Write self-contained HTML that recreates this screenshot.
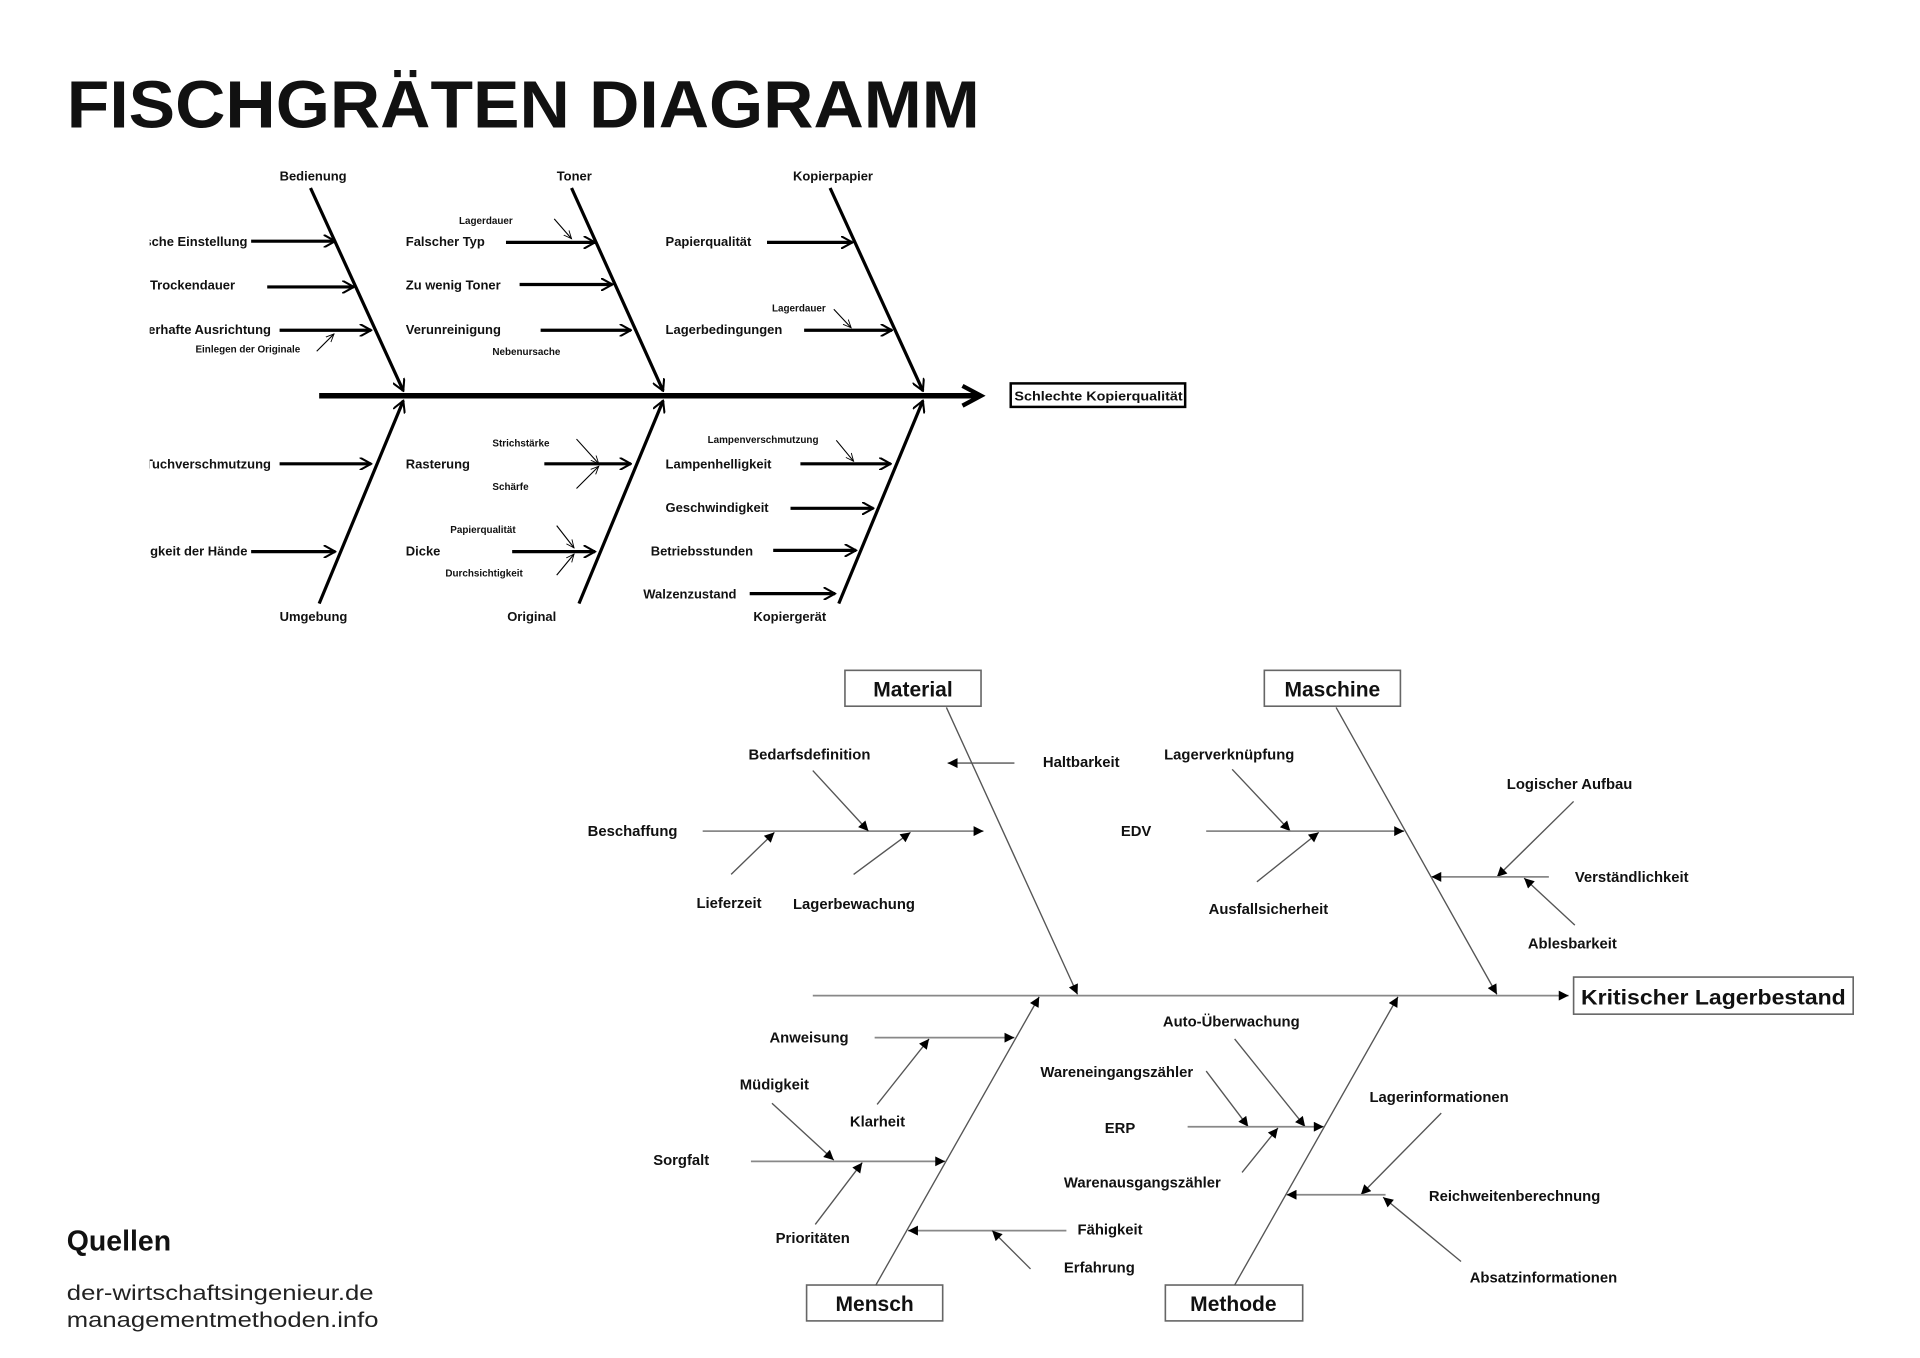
<!DOCTYPE html>
<html><head><meta charset="utf-8"><style>
html,body{margin:0;padding:0;background:#fff}
svg{display:block}
.t{font-family:"Liberation Sans",sans-serif;font-weight:bold;font-size:10.5px;fill:#111}
.s{font-family:"Liberation Sans",sans-serif;font-size:8px;fill:#111;font-weight:bold}
.b{font-family:"Liberation Sans",sans-serif;font-weight:bold;font-size:12px;fill:#111}
.bx{font-family:"Liberation Sans",sans-serif;font-weight:bold;font-size:17px;fill:#111}
.k{stroke:#000;stroke-width:2.6;fill:none}
.th{stroke:#000;stroke-width:0.9;fill:none}
.g{stroke:#555;stroke-width:1.1;fill:none}
.gs{stroke:#888;stroke-width:1.4;fill:none}
</style></head><body>
<svg width="1920" height="1358" viewBox="0 0 1552 1098" preserveAspectRatio="none" xmlns="http://www.w3.org/2000/svg">
<defs>
<marker id="o" viewBox="0 0 10 10" refX="9" refY="5" markerWidth="4" markerHeight="4" orient="auto" markerUnits="strokeWidth"><path d="M0,0 L9,5 L0,10" fill="none" stroke="#000" stroke-width="1.6"/></marker>
<marker id="os" viewBox="0 0 10 10" refX="9" refY="5" markerWidth="8" markerHeight="8" orient="auto" markerUnits="strokeWidth"><path d="M0,1 L9,5 L0,9" fill="none" stroke="#000" stroke-width="1"/></marker>
<marker id="f" viewBox="0 0 10 10" refX="10" refY="5" markerWidth="9" markerHeight="8" orient="auto" markerUnits="userSpaceOnUse"><path d="M0,0 L10,5 L0,10 z" fill="#000"/></marker>
<clipPath id="cl"><rect x="121" y="0" width="1500" height="1098"/></clipPath>
</defs>

<text x="54" y="103" style="font-family:'Liberation Sans',sans-serif;font-weight:bold;font-size:54px" fill="#111" textLength="738" lengthAdjust="spacingAndGlyphs">FISCHGRÄTEN DIAGRAMM</text>

<!-- TOP DIAGRAM -->
<line x1="258" y1="320" x2="790" y2="320" stroke="#000" stroke-width="4.5"/>
<path d="M778,312 L793,320 L778,328" fill="none" stroke="#000" stroke-width="3.5"/>
<rect x="817" y="310" width="141" height="19" fill="#fff" stroke="#000" stroke-width="2"/>
<text class="t" x="820" y="324" textLength="136" lengthAdjust="spacingAndGlyphs">Schlechte Kopierqualität</text>

<line class="k" x1="251" y1="152" x2="326" y2="316" marker-end="url(#o)"/>
<line class="k" x1="462" y1="152" x2="536" y2="316" marker-end="url(#o)"/>
<line class="k" x1="671" y1="152" x2="746" y2="316" marker-end="url(#o)"/>
<line class="k" x1="258" y1="488" x2="326" y2="324" marker-end="url(#o)"/>
<line class="k" x1="468" y1="488" x2="536" y2="324" marker-end="url(#o)"/>
<line class="k" x1="678" y1="488" x2="746" y2="324" marker-end="url(#o)"/>

<text class="t" x="226" y="146">Bedienung</text>
<text class="t" x="450" y="146">Toner</text>
<text class="t" x="641" y="146">Kopierpapier</text>
<text class="t" x="226" y="502">Umgebung</text>
<text class="t" x="410" y="502">Original</text>
<text class="t" x="609" y="502">Kopiergerät</text>

<g clip-path="url(#cl)">
<text class="t" x="200" y="199" text-anchor="end">Falsche Einstellung</text>
<text class="t" x="190" y="234" text-anchor="end">Trockendauer</text>
<text class="t" x="219" y="270" text-anchor="end">Fehlerhafte Ausrichtung</text>
<text class="t" x="219" y="379" text-anchor="end">Tuchverschmutzung</text>
<text class="t" x="200" y="449" text-anchor="end">Feuchtigkeit der Hände</text>
</g>
<line class="k" x1="203" y1="195" x2="271" y2="195" marker-end="url(#o)"/>
<line class="k" x1="216" y1="232" x2="286" y2="232" marker-end="url(#o)"/>
<line class="k" x1="226" y1="267" x2="300" y2="267" marker-end="url(#o)"/>
<text class="s" x="158" y="285">Einlegen der Originale</text>
<line class="th" x1="256" y1="284" x2="270" y2="270" marker-end="url(#os)"/>
<line class="k" x1="226" y1="375" x2="300" y2="375" marker-end="url(#o)"/>
<line class="k" x1="203" y1="446" x2="271" y2="446" marker-end="url(#o)"/>

<text class="t" x="328" y="199">Falscher Typ</text>
<text class="s" x="371" y="181">Lagerdauer</text>
<line class="th" x1="448" y1="177" x2="462" y2="193" marker-end="url(#os)"/>
<line class="k" x1="409" y1="196" x2="481" y2="196" marker-end="url(#o)"/>
<text class="t" x="328" y="234">Zu wenig Toner</text>
<line class="k" x1="420" y1="230" x2="495" y2="230" marker-end="url(#o)"/>
<text class="t" x="328" y="270">Verunreinigung</text>
<line class="k" x1="437" y1="267" x2="510" y2="267" marker-end="url(#o)"/>
<text class="s" x="398" y="287">Nebenursache</text>

<text class="t" x="538" y="199">Papierqualität</text>
<line class="k" x1="620" y1="196" x2="689" y2="196" marker-end="url(#o)"/>
<text class="t" x="538" y="270">Lagerbedingungen</text>
<line class="k" x1="650" y1="267" x2="721" y2="267" marker-end="url(#o)"/>
<text class="s" x="624" y="252">Lagerdauer</text>
<line class="th" x1="674" y1="250" x2="688" y2="265" marker-end="url(#os)"/>

<text class="t" x="328" y="379">Rasterung</text>
<text class="s" x="398" y="361">Strichstärke</text>
<text class="s" x="398" y="396">Schärfe</text>
<line class="th" x1="466" y1="355" x2="484" y2="375" marker-end="url(#os)"/>
<line class="th" x1="466" y1="395" x2="484" y2="377" marker-end="url(#os)"/>
<line class="k" x1="440" y1="375" x2="510" y2="375" marker-end="url(#o)"/>
<text class="t" x="328" y="449">Dicke</text>
<text class="s" x="364" y="431">Papierqualität</text>
<text class="s" x="360" y="466">Durchsichtigkeit</text>
<line class="th" x1="450" y1="425" x2="464" y2="443" marker-end="url(#os)"/>
<line class="th" x1="450" y1="465" x2="464" y2="448" marker-end="url(#os)"/>
<line class="k" x1="414" y1="446" x2="481" y2="446" marker-end="url(#o)"/>

<text class="t" x="538" y="379">Lampenhelligkeit</text>
<text class="s" x="572" y="358">Lampenverschmutzung</text>
<line class="th" x1="676" y1="356" x2="690" y2="373" marker-end="url(#os)"/>
<line class="k" x1="647" y1="375" x2="720" y2="375" marker-end="url(#o)"/>
<text class="t" x="538" y="414">Geschwindigkeit</text>
<line class="k" x1="639" y1="411" x2="706" y2="411" marker-end="url(#o)"/>
<text class="t" x="526" y="449">Betriebsstunden</text>
<line class="k" x1="625" y1="445" x2="692" y2="445" marker-end="url(#o)"/>
<text class="t" x="520" y="484">Walzenzustand</text>
<line class="k" x1="606" y1="480" x2="675" y2="480" marker-end="url(#o)"/>

<!-- BOTTOM DIAGRAM -->
<line class="gs" x1="657" y1="805" x2="1268" y2="805" stroke-width="1.8" marker-end="url(#f)"/>
<rect x="1272" y="790" width="226" height="30" fill="#fff" stroke="#666" stroke-width="1.3"/>
<text class="bx" x="1278" y="812" textLength="214" lengthAdjust="spacingAndGlyphs">Kritischer Lagerbestand</text>

<rect x="683" y="542" width="110" height="29" fill="#fff" stroke="#666" stroke-width="1.3"/>
<text class="bx" x="738" y="563" text-anchor="middle">Material</text>
<rect x="1022" y="542" width="110" height="29" fill="#fff" stroke="#666" stroke-width="1.3"/>
<text class="bx" x="1077" y="563" text-anchor="middle">Maschine</text>
<rect x="652" y="1039" width="110" height="29" fill="#fff" stroke="#666" stroke-width="1.3"/>
<text class="bx" x="707" y="1060" text-anchor="middle">Mensch</text>
<rect x="942" y="1039" width="111" height="29" fill="#fff" stroke="#666" stroke-width="1.3"/>
<text class="bx" x="997" y="1060" text-anchor="middle">Methode</text>

<line class="g" x1="765" y1="572" x2="871" y2="804" marker-end="url(#f)"/>
<line class="g" x1="1080" y1="572" x2="1210" y2="804" marker-end="url(#f)"/>
<line class="g" x1="708" y1="1039" x2="840" y2="806" marker-end="url(#f)"/>
<line class="g" x1="998" y1="1039" x2="1130" y2="806" marker-end="url(#f)"/>

<!-- Material -->
<text class="b" x="843" y="620">Haltbarkeit</text>
<line class="g" x1="820" y1="617" x2="766" y2="617" marker-end="url(#f)"/>
<text class="b" x="475" y="676">Beschaffung</text>
<line class="gs" x1="568" y1="672" x2="795" y2="672" marker-end="url(#f)"/>
<text class="b" x="605" y="614">Bedarfsdefinition</text>
<line class="g" x1="657" y1="623" x2="702" y2="672" marker-end="url(#f)"/>
<text class="b" x="563" y="734">Lieferzeit</text>
<line class="g" x1="591" y1="707" x2="626" y2="673" marker-end="url(#f)"/>
<text class="b" x="641" y="735">Lagerbewachung</text>
<line class="g" x1="690" y1="707" x2="736" y2="673" marker-end="url(#f)"/>

<!-- Maschine -->
<text class="b" x="941" y="614">Lagerverknüpfung</text>
<line class="g" x1="996" y1="622" x2="1043" y2="672" marker-end="url(#f)"/>
<text class="b" x="906" y="676">EDV</text>
<line class="gs" x1="975" y1="672" x2="1135" y2="672" marker-end="url(#f)"/>
<text class="b" x="977" y="739">Ausfallsicherheit</text>
<line class="g" x1="1016" y1="713" x2="1066" y2="673" marker-end="url(#f)"/>
<text class="b" x="1218" y="638">Logischer Aufbau</text>
<line class="g" x1="1272" y1="648" x2="1210" y2="709" marker-end="url(#f)"/>
<text class="b" x="1273" y="713">Verständlichkeit</text>
<line class="gs" x1="1252" y1="709" x2="1157" y2="709" marker-end="url(#f)"/>
<text class="b" x="1235" y="767">Ablesbarkeit</text>
<line class="g" x1="1273" y1="748" x2="1232" y2="710" marker-end="url(#f)"/>

<!-- Mensch -->
<text class="b" x="622" y="843">Anweisung</text>
<line class="gs" x1="707" y1="839" x2="820" y2="839" marker-end="url(#f)"/>
<text class="b" x="687" y="911">Klarheit</text>
<line class="g" x1="709" y1="893" x2="751" y2="840" marker-end="url(#f)"/>
<text class="b" x="598" y="881">Müdigkeit</text>
<line class="g" x1="624" y1="892" x2="674" y2="938" marker-end="url(#f)"/>
<text class="b" x="528" y="942">Sorgfalt</text>
<line class="gs" x1="607" y1="939" x2="764" y2="939" marker-end="url(#f)"/>
<text class="b" x="627" y="1005">Prioritäten</text>
<line class="g" x1="659" y1="990" x2="697" y2="940" marker-end="url(#f)"/>
<text class="b" x="871" y="998">Fähigkeit</text>
<line class="gs" x1="862" y1="995" x2="734" y2="995" marker-end="url(#f)"/>
<text class="b" x="860" y="1029">Erfahrung</text>
<line class="g" x1="833" y1="1026" x2="802" y2="995" marker-end="url(#f)"/>

<!-- Methode -->
<text class="b" x="940" y="830">Auto-Überwachung</text>
<line class="g" x1="998" y1="840" x2="1055" y2="911" marker-end="url(#f)"/>
<text class="b" x="841" y="871">Wareneingangszähler</text>
<line class="g" x1="975" y1="866" x2="1009" y2="911" marker-end="url(#f)"/>
<text class="b" x="893" y="916">ERP</text>
<line class="gs" x1="960" y1="911" x2="1070" y2="911" marker-end="url(#f)"/>
<text class="b" x="860" y="960">Warenausgangszähler</text>
<line class="g" x1="1004" y1="948" x2="1033" y2="912" marker-end="url(#f)"/>
<text class="b" x="1107" y="891">Lagerinformationen</text>
<line class="g" x1="1165" y1="900" x2="1100" y2="966" marker-end="url(#f)"/>
<text class="b" x="1155" y="971">Reichweitenberechnung</text>
<line class="gs" x1="1120" y1="966" x2="1040" y2="966" marker-end="url(#f)"/>
<text class="b" x="1188" y="1037">Absatzinformationen</text>
<line class="g" x1="1181" y1="1020" x2="1118" y2="968" marker-end="url(#f)"/>

<!-- Quellen -->
<text x="54" y="1011" style="font-family:'Liberation Sans',sans-serif;font-weight:bold;font-size:23px" fill="#111">Quellen</text>
<text x="54" y="1051" style="font-family:'Liberation Sans',sans-serif;font-size:17px" fill="#222" textLength="248" lengthAdjust="spacingAndGlyphs">der-wirtschaftsingenieur.de</text>
<text x="54" y="1073" style="font-family:'Liberation Sans',sans-serif;font-size:17px" fill="#222" textLength="252" lengthAdjust="spacingAndGlyphs">managementmethoden.info</text>
</svg>
</body></html>
